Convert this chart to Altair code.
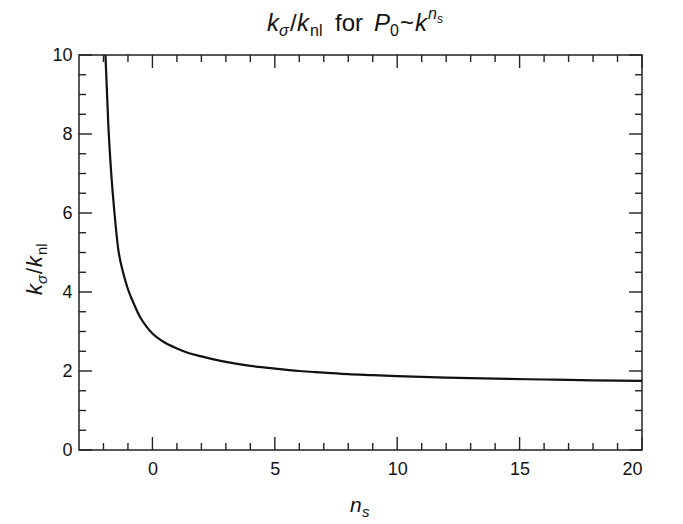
import altair as alt
import pandas as pd

# ---- data ----
n_s = [-1.92, -1.8, -1.7, -1.55, -1.4, -1.2, -1.0, -0.8, -0.5, -0.25, 0.0, 0.3, 0.5,
       1.0, 1.5, 2.0, 3.0, 4.0, 5.0, 6.0, 7.0, 8.0, 9.0, 10.0, 12.0, 14.0, 16.0, 18.0, 20.0]
ratio = [10.0, 8.2, 7.15, 6.0, 5.1, 4.5, 4.07, 3.76, 3.36, 3.13, 2.95, 2.80, 2.72,
         2.57, 2.45, 2.37, 2.23, 2.13, 2.06, 2.00, 1.96, 1.92, 1.895, 1.87, 1.83, 1.805,
         1.785, 1.765, 1.75]

x_major = [0, 5, 10, 15, 20]
x_minor = [-2, -1, 1, 2, 3, 4, 6, 7, 8, 9, 11, 12, 13, 14, 16, 17, 18, 19]
y_major = [0, 2, 4, 6, 8, 10]
y_minor = [0.5, 1, 1.5, 2.5, 3, 3.5, 4.5, 5, 5.5, 6.5, 7, 7.5, 8.5, 9, 9.5]

FONT = "Liberation Sans"
INK = "#111111"
FRAME = "#222222"
W, H = 563, 395
MAJ, MIN = 13, 7

xs = alt.Scale(domain=[-3, 20], nice=False, zero=False)
ys = alt.Scale(domain=[0, 10], nice=False, zero=False)
xa = alt.Axis(values=x_major, ticks=False, domain=False, grid=False, labelFontSize=18,
              labelFont=FONT, labelColor=INK, labelPadding=10, title=None)
ya = alt.Axis(values=y_major, ticks=False, domain=False, grid=False, labelFontSize=18,
              labelFont=FONT, labelColor=INK, labelPadding=7, title=None)

df = pd.DataFrame({"n_s": n_s, "ratio": ratio})

curve = alt.Chart(df).mark_line(color=INK, strokeWidth=2.2, interpolate="monotone", clip=True).encode(
    x=alt.X("n_s:Q", scale=xs, axis=xa),
    y=alt.Y("ratio:Q", scale=ys, axis=ya),
)


def xticks(vals, length):
    d = pd.DataFrame({"n_s": vals})
    bottom = alt.Chart(d).mark_rule(color=FRAME, strokeWidth=1.4).encode(
        x=alt.X("n_s:Q", scale=xs, axis=xa), y=alt.value(H), y2=alt.value(H - length))
    top = alt.Chart(d).mark_rule(color=FRAME, strokeWidth=1.4).encode(
        x=alt.X("n_s:Q", scale=xs, axis=xa), y=alt.value(0), y2=alt.value(length))
    return [bottom, top]


def yticks(vals, length):
    d = pd.DataFrame({"ratio": vals})
    left = alt.Chart(d).mark_rule(color=FRAME, strokeWidth=1.4).encode(
        y=alt.Y("ratio:Q", scale=ys, axis=ya), x=alt.value(0), x2=alt.value(length))
    right = alt.Chart(d).mark_rule(color=FRAME, strokeWidth=1.4).encode(
        y=alt.Y("ratio:Q", scale=ys, axis=ya), x=alt.value(W), x2=alt.value(W - length))
    return [left, right]


def piece(txt, x, y, size, italic, angle=0):
    return alt.Chart(pd.DataFrame({"t": [txt]})).mark_text(
        align="left", baseline="alphabetic", font=FONT, fontSize=size,
        fontStyle="italic" if italic else "normal", color=INK, angle=angle
    ).encode(x=alt.value(x), y=alt.value(y), text="t:N")


# title  k_sigma/k_nl for P_0~k^{n_s}
title = [
    piece("k", 188, -24, 24, True),
    piece("σ", 200, -19, 16, True),
    piece("/", 211, -24, 24, False),
    piece("k", 218, -24, 24, True),
    piece("nl", 231, -19, 16, False),
    piece("for", 256, -24, 24, False),
    piece("P", 295, -24, 24, True),
    piece("0", 311, -19, 16, False),
    piece("~", 321, -24, 24, False),
    piece("k", 336, -24, 24, True),
    piece("n", 349, -36, 16, True),
    piece("s", 358, -32, 12, True),
]

# x axis title n_s
xlab = [
    piece("n", 271, 457, 21, True),
    piece("s", 283, 462, 15, True),
]

# y axis title k_sigma/k_nl (rotated)
ylab = [
    piece("k", -37, 240, 22, True, 270),
    piece("σ", -32, 229, 15, True, 270),
    piece("/", -37, 219, 22, False, 270),
    piece("k", -37, 212, 22, True, 270),
    piece("nl", -32, 200, 15, False, 270),
]

layers = [curve] + xticks(x_major, MAJ) + xticks(x_minor, MIN) + yticks(y_major, MAJ) + yticks(y_minor, MIN) \
    + title + xlab + ylab

chart = alt.layer(*layers).properties(
    width=W, height=H,
    padding={"left": 79, "top": 55, "right": 41, "bottom": 74},
    autosize=alt.AutoSizeParams(type="none"),
    background="white",
).configure_view(stroke=FRAME, strokeWidth=1.5)

chart.save("out.html", embed_options={"renderer": "svg", "actions": False})
